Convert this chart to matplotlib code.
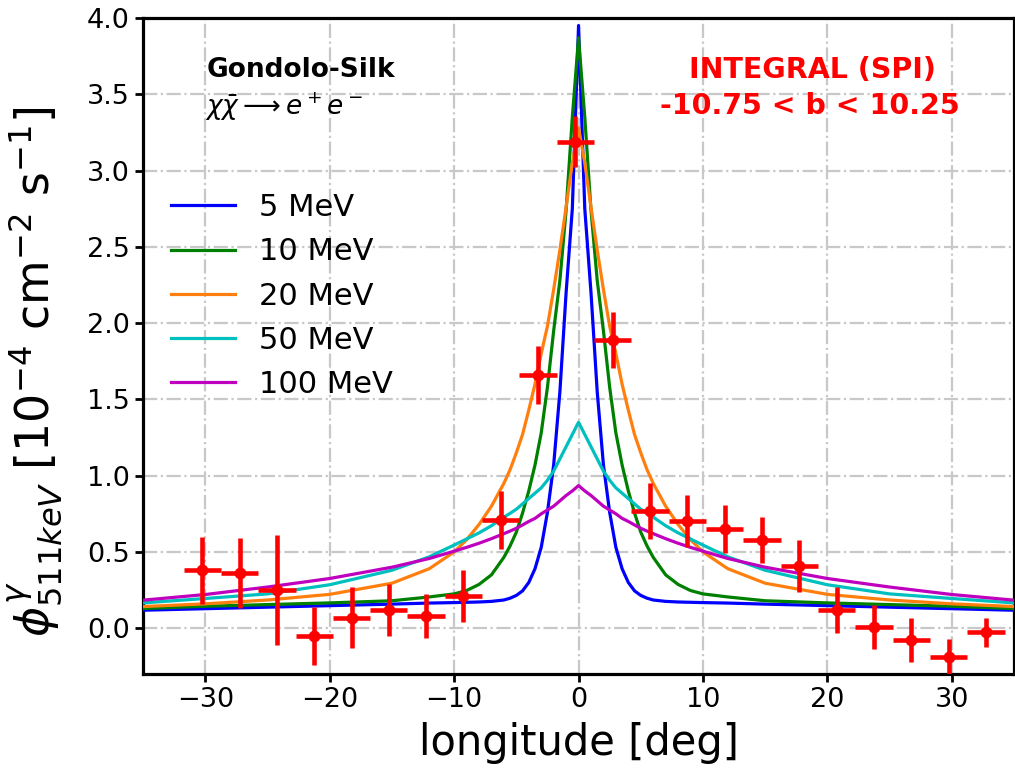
import numpy as np
import matplotlib
matplotlib.use("Agg")
import matplotlib.pyplot as plt

# ---- data ----
lon_data = [-30.25, -27.25, -24.25, -21.25, -18.25, -15.25, -12.25, -9.25, -6.25, -3.25, -0.25,
            2.75, 5.75, 8.75, 11.75, 14.75, 17.75, 20.75, 23.75, 26.75, 29.75, 32.75]
flux_data = [0.38, 0.36, 0.25, -0.05, 0.07, 0.12, 0.08, 0.21, 0.71, 1.66, 3.19,
             1.89, 0.77, 0.70, 0.65, 0.58, 0.41, 0.12, 0.01, -0.075, -0.19, -0.025]
flux_err = [0.22, 0.23, 0.36, 0.19, 0.20, 0.17, 0.145, 0.17, 0.19, 0.19, 0.17,
            0.185, 0.185, 0.17, 0.16, 0.15, 0.17, 0.15, 0.145, 0.145, 0.12, 0.095]
lon_err = 1.5

# model curves: half profile (|l| >= 0), symmetric about l = 0
lon_half = [0, 0.5, 1, 1.5, 2, 2.5, 3, 3.5, 4, 4.5, 5, 5.5, 6, 7, 8, 9, 10, 12, 15, 20, 25, 30, 35]
m5 = [3.95, 2.75, 2.20, 1.55, 1.07, 0.76, 0.53, 0.39, 0.30, 0.245, 0.215, 0.197, 0.185, 0.176,
      0.172, 0.170, 0.168, 0.165, 0.158, 0.148, 0.138, 0.128, 0.118]
m10 = [3.87, 3.35, 2.74, 2.28, 1.95, 1.58, 1.28, 1.07, 0.90, 0.755, 0.63, 0.54, 0.465, 0.350,
       0.287, 0.247, 0.225, 0.205, 0.180, 0.166, 0.155, 0.144, 0.129]
m20 = [3.28, 3.05, 2.76, 2.48, 2.22, 1.98, 1.80, 1.60, 1.43, 1.27, 1.15, 1.04, 0.95, 0.80,
       0.68, 0.58, 0.50, 0.39, 0.295, 0.222, 0.185, 0.160, 0.142]
m50 = [1.35, 1.27, 1.19, 1.11, 1.03, 0.97, 0.92, 0.885, 0.85, 0.815, 0.78, 0.753, 0.728, 0.672,
       0.625, 0.585, 0.545, 0.468, 0.38, 0.285, 0.225, 0.195, 0.166]
m100 = [0.935, 0.90, 0.87, 0.835, 0.80, 0.775, 0.75, 0.72, 0.70, 0.677, 0.655, 0.637, 0.62, 0.587,
        0.557, 0.53, 0.505, 0.457, 0.40, 0.326, 0.27, 0.221, 0.184]

labels = ["5 MeV", "10 MeV", "20 MeV", "50 MeV", "100 MeV"]
colors = ["#0000ff", "#008000", "#ff7f0e", "#00bfbf", "#bf00bf"]
xticks = [-30, -20, -10, 0, 10, 20, 30]
yticks = [0.0, 0.5, 1.0, 1.5, 2.0, 2.5, 3.0, 3.5, 4.0]


def full(profile):
    return list(profile[:0:-1]) + list(profile)


lon_full = [-v for v in lon_half[:0:-1]] + list(lon_half)

fig = plt.figure(figsize=(10.15, 7.68), dpi=100)
ax = fig.add_axes([0.141, 0.1224, 0.858, 0.8542])

for prof, lab, col in zip([m5, m10, m20, m50, m100], labels, colors):
    ax.plot(lon_full, full(prof), color=col, lw=2.3, label=lab, zorder=3)

ax.errorbar(lon_data, flux_data, yerr=flux_err, xerr=lon_err, fmt='o', color='red',
            ms=7.5, elinewidth=3.3, capsize=0, zorder=5)

ax.set_xlim(-35, 35)
ax.set_ylim(-0.3, 4.0)
ax.set_xticks(xticks)
ax.set_yticks(yticks)
ax.grid(True, color='#c8c8c8', linestyle='-.', linewidth=1.6)
ax.set_axisbelow(True)

for sp in ax.spines.values():
    sp.set_linewidth(2.3)
ax.tick_params(axis='both', labelsize=19.5, width=2, length=6, color='black')

ax.set_xlabel("longitude [deg]", fontsize=30, labelpad=6)
ax.set_ylabel(r"$\phi^{\gamma}_{511keV}$ [10$^{-4}$ cm$^{-2}$ s$^{-1}$]", fontsize=33)
ax.yaxis.set_label_coords(-0.09, 0.46)

ax.text(-29.9, 3.66, "Gondolo-Silk", fontsize=19, fontweight='bold', ha='left', va='center')
ax.text(-30.0, 3.42, r"$\chi\bar{\chi} \longrightarrow e^+e^-$", fontsize=19, ha='left', va='center')
ax.text(18.8, 3.66, "INTEGRAL (SPI)", fontsize=20.5, fontweight='bold', color='red',
        ha='center', va='center')
ax.text(18.6, 3.42, "-10.75 < b < 10.25", fontsize=20.5, fontweight='bold', color='red',
        ha='center', va='center')

ax.legend(loc='upper left', bbox_to_anchor=(0.0, 0.775), frameon=False, fontsize=22,
          handlelength=2.1, labelspacing=0.5, handletextpad=0.8)

fig.savefig("out.png", dpi=100)
